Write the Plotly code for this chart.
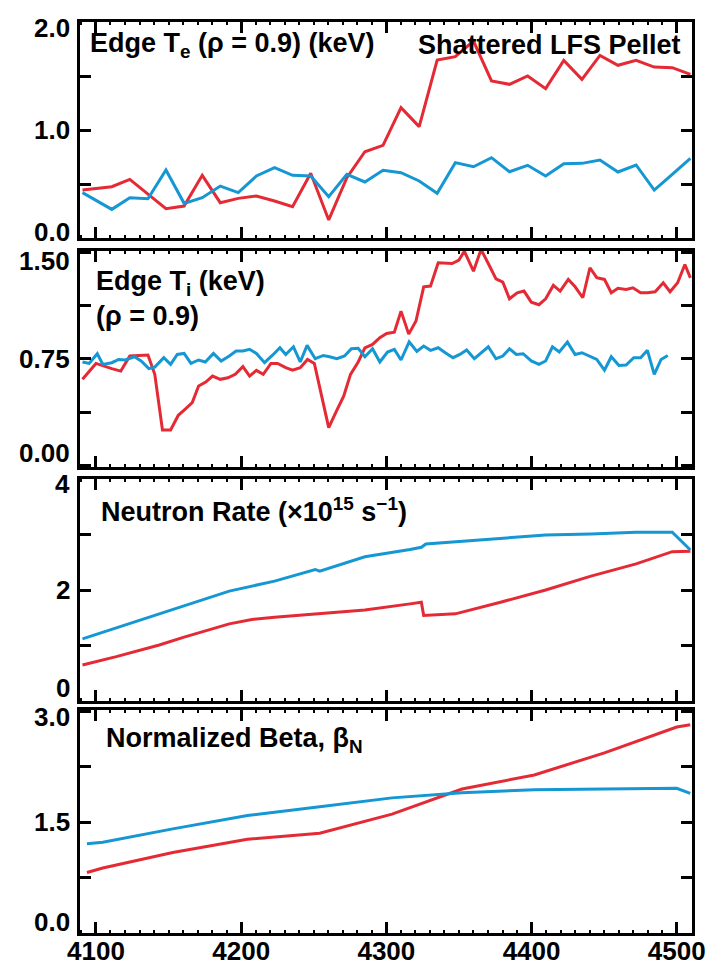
import plotly.graph_objects as go
from plotly.subplots import make_subplots

# ---------------- data ----------------
# Edge electron temperature at rho = 0.9 (keV)
te_t = [4090.7, 4110.9, 4123.3, 4135.8, 4148.2, 4160.7, 4173.2, 4185.6, 4198.0, 4210.5,
        4223.0, 4235.4, 4247.9, 4260.3, 4272.8, 4285.2, 4297.7, 4310.1, 4322.6, 4335.0,
        4347.5, 4360.0, 4372.4, 4384.8, 4397.3, 4409.7, 4422.2, 4434.7, 4447.1, 4459.5,
        4472.0, 4484.5, 4496.9, 4509.4]
te_pellet = [0.444, 0.475, 0.543, 0.404, 0.272, 0.296, 0.580, 0.327, 0.367, 0.389,
             0.343, 0.290, 0.599, 0.167, 0.559, 0.799, 0.858, 1.207, 1.031, 1.648,
             1.679, 1.824, 1.454, 1.423, 1.500, 1.383, 1.645, 1.469, 1.691, 1.599,
             1.645, 1.583, 1.577, 1.515]
te_ref = [0.420, 0.265, 0.373, 0.364, 0.630, 0.321, 0.373, 0.481, 0.420, 0.574,
          0.651, 0.580, 0.574, 0.383, 0.590, 0.519, 0.627, 0.605, 0.528, 0.414,
          0.698, 0.660, 0.744, 0.614, 0.673, 0.574, 0.688, 0.691, 0.722, 0.611,
          0.676, 0.444, 0.590, 0.738]

# Edge ion temperature at rho = 0.9 (keV)
ti_pellet_t = [4090.7, 4100.0, 4110.9, 4117.1, 4123.3, 4135.8, 4140.5, 4145.8, 4151.4, 4156.7,
               4161.3, 4166.3, 4170.7, 4175.6, 4180.3, 4185.6, 4190.9, 4195.9, 4201.2, 4205.8,
               4210.5, 4215.2, 4220.5, 4225.1, 4230.7, 4235.4, 4240.7, 4245.7, 4250.4, 4260.3,
               4265.6, 4270.6, 4275.3, 4280.6, 4285.2, 4290.5, 4295.5, 4300.2, 4305.5, 4310.1,
               4315.4, 4320.4, 4325.7, 4330.4, 4335.7, 4345.3, 4350.0, 4353.7, 4360.0, 4365.2,
               4370.2, 4375.5, 4380.2, 4384.8, 4390.1, 4394.8, 4399.8, 4405.1, 4409.7, 4415.0,
               4419.7, 4425.3, 4430.0, 4435.3, 4440.2, 4444.9, 4450.2, 4454.9, 4459.5, 4465.1,
               4469.8, 4475.1, 4479.8, 4485.1, 4490.7, 4495.4, 4500.6, 4505.6, 4509.4]
ti_pellet = [0.605, 0.717, 0.680, 0.663, 0.769, 0.776, 0.640, 0.248, 0.248, 0.352,
             0.394, 0.441, 0.558, 0.586, 0.628, 0.605, 0.616, 0.640, 0.694, 0.628,
             0.668, 0.640, 0.717, 0.717, 0.687, 0.670, 0.687, 0.745, 0.717, 0.265,
             0.382, 0.487, 0.640, 0.727, 0.827, 0.851, 0.898, 0.928, 0.937, 1.085,
             0.923, 1.015, 1.256, 1.261, 1.425, 1.420, 1.444, 1.507, 1.366, 1.519,
             1.420, 1.312, 1.289, 1.172, 1.214, 1.226, 1.148, 1.130, 1.172, 1.266,
             1.226, 1.308, 1.256, 1.179, 1.390, 1.320, 1.308, 1.214, 1.245, 1.238,
             1.249, 1.214, 1.214, 1.221, 1.284, 1.221, 1.284, 1.413, 1.319]
ti_ref_t = [4090.7, 4095.3, 4100.9, 4104.7, 4110.9, 4115.6, 4120.2, 4126.5, 4131.1, 4136.4,
            4140.5, 4146.7, 4151.4, 4156.0, 4160.7, 4165.4, 4170.7, 4175.3, 4180.9, 4186.2,
            4191.8, 4196.5, 4201.2, 4205.8, 4210.5, 4216.1, 4221.4, 4226.7, 4230.7, 4236.0,
            4240.7, 4245.4, 4251.0, 4256.6, 4260.9, 4265.9, 4271.2, 4275.9, 4280.6, 4285.2,
            4290.5, 4295.5, 4300.8, 4305.5, 4310.1, 4315.7, 4321.0, 4325.7, 4330.4, 4335.7,
            4340.6, 4345.9, 4350.6, 4355.3, 4360.6, 4365.5, 4370.2, 4375.5, 4380.2, 4384.8,
            4389.5, 4394.2, 4399.8, 4405.1, 4409.7, 4414.4, 4419.1, 4424.7, 4430.0, 4434.7,
            4440.2, 4444.9, 4450.2, 4454.9, 4460.2, 4465.1, 4470.4, 4475.1, 4479.8, 4484.5,
            4489.2, 4493.8]
ti_ref = [0.727, 0.717, 0.785, 0.710, 0.722, 0.745, 0.741, 0.764, 0.734, 0.680,
          0.691, 0.757, 0.710, 0.780, 0.787, 0.717, 0.741, 0.727, 0.787, 0.734,
          0.769, 0.804, 0.804, 0.816, 0.787, 0.722, 0.773, 0.827, 0.780, 0.834,
          0.727, 0.844, 0.750, 0.773, 0.764, 0.750, 0.769, 0.820, 0.823, 0.764,
          0.820, 0.727, 0.797, 0.816, 0.741, 0.869, 0.801, 0.839, 0.809, 0.827,
          0.792, 0.757, 0.780, 0.811, 0.750, 0.792, 0.834, 0.750, 0.769, 0.820,
          0.780, 0.785, 0.734, 0.710, 0.734, 0.834, 0.797, 0.867, 0.780, 0.792,
          0.764, 0.745, 0.670, 0.764, 0.703, 0.705, 0.757, 0.757, 0.809, 0.640,
          0.745, 0.773]

# Neutron rate (x 10^15 s^-1)
nr_pellet_t = [4090.7, 4114.0, 4143.6, 4160.7, 4191.8, 4207.4, 4223.0, 4254.1, 4285.2, 4316.3,
               4324.1, 4325.7, 4347.5, 4378.6, 4409.7, 4440.9, 4472.0, 4496.9, 4509.4]
nr_pellet = [0.65, 0.80, 1.01, 1.15, 1.39, 1.47, 1.51, 1.57, 1.64, 1.75,
             1.78, 1.54, 1.57, 1.78, 2.00, 2.25, 2.47, 2.69, 2.70]
nr_ref_t = [4090.7, 4129.6, 4160.7, 4191.8, 4223.0, 4251.0, 4254.1, 4285.2, 4316.3, 4324.1,
            4327.2, 4347.5, 4378.6, 4409.7, 4440.9, 4472.0, 4496.9, 4509.4]
nr_ref = [1.12, 1.45, 1.72, 1.98, 2.16, 2.37, 2.34, 2.60, 2.73, 2.77,
          2.83, 2.87, 2.94, 2.99, 3.01, 3.04, 3.04, 2.72]

# Normalized beta
bn_t = [4093.8, 4104.7, 4152.9, 4204.3, 4254.1, 4303.9, 4352.1, 4401.9, 4450.2, 4500.0, 4509.3]
bn_pellet = [0.82, 0.88, 1.09, 1.27, 1.35, 1.61, 1.95, 2.14, 2.44, 2.79, 2.82]
bn_ref = [1.21, 1.23, 1.41, 1.59, 1.71, 1.83, 1.90, 1.94, 1.95, 1.96, 1.89]

# axis ticks: labelled values and unlabelled intermediate ticks
x_ticks = [4100, 4200, 4300, 4400, 4500]
te_ticks = [0.0, 1.0, 2.0]
te_labels = ["0.0", "1.0", "2.0"]
te_minor = [0.5, 1.5]
ti_ticks = [0.0, 0.75, 1.5]
ti_labels = ["0.00", "0.75", "1.50"]
ti_minor = [0.375, 1.125]
nr_ticks = [0, 2, 4]
nr_labels = ["0", "2", "4"]
nr_minor = [1, 3]
bn_ticks = [0.0, 1.5, 3.0]
bn_labels = ["0.0", "1.5", "3.0"]
bn_minor = [0.75, 2.25]

RED = "#e42a35"
BLUE = "#1597d3"
FONT = "Liberation Sans, Arial, sans-serif"

W, H = 713, 968
ML, MR, MT, MB = 80, 21, 22, 35
PW, PH = W - ML - MR, H - MT - MB


def px(xp):
    return (xp - ML) / PW


def py(yp):
    return (H - MB - yp) / PH


# panel frames in page pixels (top, bottom)
frames = [(22, 238), (251, 467), (479, 701), (710, 933)]

fig = make_subplots(rows=4, cols=1, shared_xaxes=False, vertical_spacing=0.0)
for i, (t, b) in enumerate(frames):
    name = "yaxis" if i == 0 else f"yaxis{i + 1}"
    fig.layout[name].domain = [py(b), py(t)]

line = dict(width=3)
fig.add_trace(go.Scatter(x=te_t, y=te_pellet, mode="lines", line=dict(color=RED, **line)), row=1, col=1)
fig.add_trace(go.Scatter(x=te_t, y=te_ref, mode="lines", line=dict(color=BLUE, **line)), row=1, col=1)
fig.add_trace(go.Scatter(x=ti_pellet_t, y=ti_pellet, mode="lines", line=dict(color=RED, **line)), row=2, col=1)
fig.add_trace(go.Scatter(x=ti_ref_t, y=ti_ref, mode="lines", line=dict(color=BLUE, **line)), row=2, col=1)
fig.add_trace(go.Scatter(x=nr_pellet_t, y=nr_pellet, mode="lines", line=dict(color=RED, **line)), row=3, col=1)
fig.add_trace(go.Scatter(x=nr_ref_t, y=nr_ref, mode="lines", line=dict(color=BLUE, **line)), row=3, col=1)
fig.add_trace(go.Scatter(x=bn_t, y=bn_pellet, mode="lines", line=dict(color=RED, **line)), row=4, col=1)
fig.add_trace(go.Scatter(x=bn_t, y=bn_ref, mode="lines", line=dict(color=BLUE, **line)), row=4, col=1)

tickfont = dict(family=FONT, size=26, color="black", weight="bold")
common = dict(showline=True, linecolor="black", linewidth=3, mirror="ticks",
              ticks="inside", ticklen=11, tickwidth=3, tickcolor="black",
              showgrid=False, zeroline=False, tickfont=tickfont, automargin=False)

y_cfg = [((0.0, 2.0), te_ticks, te_labels, te_minor),
         ((-0.012, 1.508), ti_ticks, ti_labels, ti_minor),
         ((0.0, 4.0), nr_ticks, nr_labels, nr_minor),
         ((0.0, 3.02), bn_ticks, bn_labels, bn_minor)]
# vertical nudge of the end labels so they sit inside their own panel
label_shift = [(6, -6), (9, -12), (5, -13), (6, -11)]

for i, (rng, tv, tt, mv) in enumerate(y_cfg):
    fig.update_yaxes(range=list(rng), tickvals=tv, showticklabels=False,
                     minor=dict(tickvals=mv, ticks="inside", ticklen=11,
                                tickwidth=3, tickcolor="black"),
                     row=i + 1, col=1, **common)
    fig.update_xaxes(range=[4089, 4510.5], tickvals=x_ticks,
                     ticktext=[str(v) for v in x_ticks],
                     showticklabels=(i == 3), ticklabelstandoff=-7,
                     minor=dict(dtick=10, tick0=4100, ticks="inside", ticklen=3,
                                tickwidth=2, tickcolor="black"),
                     row=i + 1, col=1, **common)
    yref = "y" if i == 0 else f"y{i + 1}"
    top_shift, bot_shift = label_shift[i]
    for k, (v, txt) in enumerate(zip(tv, tt)):
        shift = 0
        if k == 0:
            shift = -bot_shift
        elif k == len(tv) - 1:
            shift = -top_shift
        fig.add_annotation(xref="paper", x=px(72), yref=yref, y=v, text=txt,
                           xanchor="right", yanchor="middle", yshift=shift,
                           showarrow=False, font=tickfont)

afont = dict(family=FONT, size=27, color="black", weight="bold")
ann = [
    dict(x=px(88), y=py(45), text="Edge T<sub>e</sub> (ρ = 0.9) (keV)", xanchor="left"),
    dict(x=px(683), y=py(45), text="Shattered LFS Pellet", xanchor="right"),
    dict(x=px(94), y=py(298), text="Edge T<sub>i</sub> (keV)<br>(ρ = 0.9)", xanchor="left", align="left"),
    dict(x=px(99), y=py(510), text="Neutron Rate (×10<sup>15</sup> s<sup>−1</sup>)", xanchor="left"),
    dict(x=px(104), y=py(740), text="Normalized Beta, β<sub>N</sub>", xanchor="left"),
]
for a in ann:
    fig.add_annotation(xref="paper", yref="paper", yanchor="middle", showarrow=False,
                       font=afont, **a)

fig.update_layout(width=W, height=H, margin=dict(l=ML, r=MR, t=MT, b=MB, autoexpand=False),
                  paper_bgcolor="white", plot_bgcolor="white", showlegend=False)

fig.write_html("out.html")
